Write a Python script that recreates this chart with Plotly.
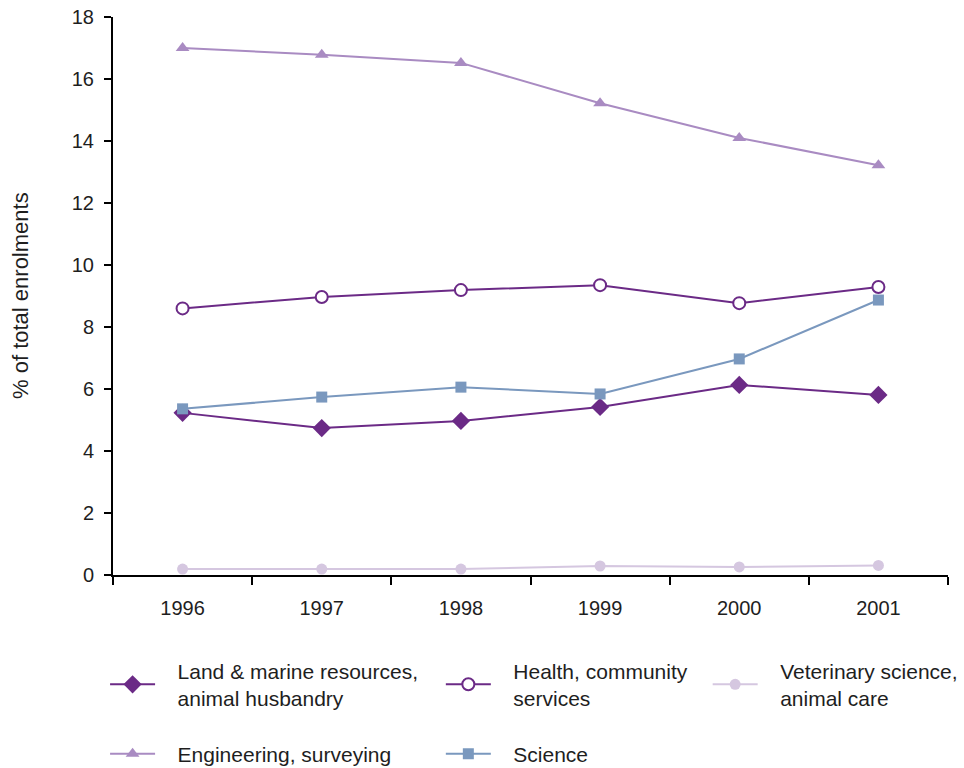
import plotly.graph_objects as go

years = ["1996", "1997", "1998", "1999", "2000", "2001"]

land_marine = [5.23, 4.74, 4.97, 5.42, 6.13, 5.81]
health_community = [8.60, 8.97, 9.19, 9.35, 8.77, 9.29]
veterinary = [0.19, 0.19, 0.19, 0.29, 0.26, 0.31]
engineering = [17.0, 16.78, 16.52, 15.22, 14.10, 13.22]
science = [5.36, 5.74, 6.06, 5.84, 6.97, 8.87]

y_ticks = [0, 2, 4, 6, 8, 10, 12, 14, 16, 18]

DARK = "#6b2a86"
LILAC = "#a98bc2"
STEEL = "#7a98be"
PALE = "#d5c7e0"

FONT = "Liberation Sans"
INK = "#1e1e1e"


def label(*lines):
    # indent every line a little so the text sits clear of the legend symbol
    pad = "\u00a0\u00a0\u00a0"
    return "<br>".join(pad + ln for ln in lines)


fig = go.Figure()

fig.add_trace(go.Scatter(
    x=years, y=land_marine, mode="lines+markers",
    name=label("Land & marine resources,", "animal husbandry"),
    line=dict(color=DARK, width=2),
    marker=dict(symbol="diamond", size=14, color=DARK),
    legend="legend",
))
fig.add_trace(go.Scatter(
    x=years, y=health_community, mode="lines+markers",
    name=label("Health, community", "services"),
    line=dict(color=DARK, width=2),
    marker=dict(symbol="circle", size=12, color="white",
                line=dict(color=DARK, width=2)),
    legend="legend2",
))
fig.add_trace(go.Scatter(
    x=years, y=veterinary, mode="lines+markers",
    name=label("Veterinary science,", "animal care"),
    line=dict(color=PALE, width=2),
    marker=dict(symbol="circle", size=11, color=PALE),
    legend="legend3",
))
fig.add_trace(go.Scatter(
    x=years, y=engineering, mode="lines+markers",
    name=label("Engineering, surveying"),
    line=dict(color=LILAC, width=2),
    marker=dict(symbol="triangle-up", size=12, color=LILAC),
    legend="legend4",
))
fig.add_trace(go.Scatter(
    x=years, y=science, mode="lines+markers",
    name=label("Science"),
    line=dict(color=STEEL, width=2),
    marker=dict(symbol="square", size=11, color=STEEL),
    legend="legend5",
))

# legend blocks laid out in a 3-column grid under the plot
col_x = [0.109, 0.4573, 0.7341]
row_y = [1 - 684.5 / 768, 1 - 754 / 768]


def legend_box(x, y):
    return dict(
        orientation="v",
        xref="container",
        yref="container",
        x=x,
        y=y,
        yanchor="middle",
        xanchor="left",
        bgcolor="rgba(0,0,0,0)",
        font=dict(family=FONT, size=21, color=INK),
        itemwidth=45,
    )


fig.update_layout(
    width=964,
    height=768,
    margin=dict(l=113, r=16, t=17, b=193, autoexpand=False),
    paper_bgcolor="white",
    plot_bgcolor="white",
    showlegend=True,
    font=dict(family=FONT, size=20, color=INK),
    legend=legend_box(col_x[0], row_y[0]),
    legend2=legend_box(col_x[1], row_y[0]),
    legend3=legend_box(col_x[2], row_y[0]),
    legend4=legend_box(col_x[0], row_y[1]),
    legend5=legend_box(col_x[1], row_y[1]),
    xaxis=dict(
        type="category",
        range=[-0.5, 5.5],
        showline=True, linecolor="black", linewidth=2,
        ticks="outside", ticklen=8, tickwidth=2, tickcolor="black",
        tickson="boundaries",
        showgrid=False, zeroline=False,
        tickfont=dict(family=FONT, size=20, color=INK),
        ticklabelstandoff=14,
    ),
    yaxis=dict(
        range=[0, 18],
        tickvals=y_ticks,
        showline=True, linecolor="black", linewidth=2,
        ticks="outside", ticklen=7, tickwidth=2, tickcolor="black",
        showgrid=False, zeroline=False,
        tickfont=dict(family=FONT, size=20, color=INK),
        ticklabelstandoff=6,
    ),
    annotations=[dict(
        text="% of total enrolments",
        xref="paper", yref="paper",
        x=0, y=0.5,
        xshift=-93,
        xanchor="center", yanchor="middle",
        textangle=-90,
        showarrow=False,
        font=dict(family=FONT, size=22, color=INK),
    )],
)

fig.write_html("out.html")
